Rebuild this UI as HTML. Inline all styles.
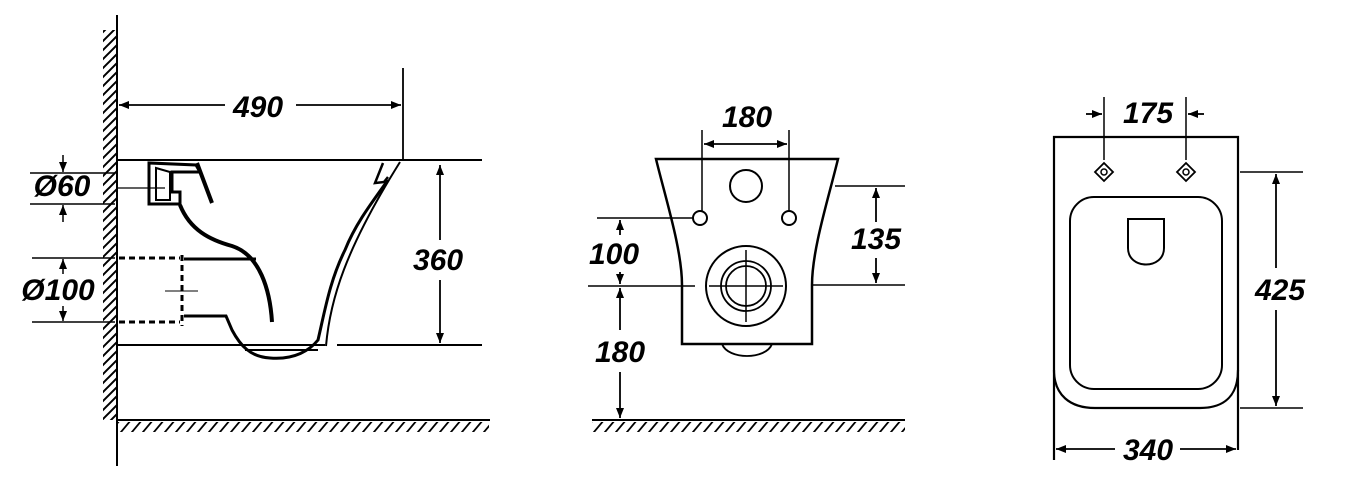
<!DOCTYPE html>
<html><head><style>html,body{margin:0;padding:0;background:#fff}svg{display:block}
text{font-family:"Liberation Sans",sans-serif;font-weight:bold;font-style:italic;font-size:30px;fill:#000;text-anchor:middle}</style></head>
<body>
<svg width="1362" height="485" viewBox="0 0 1362 485" xmlns="http://www.w3.org/2000/svg">
<defs>
<pattern id="h" patternUnits="userSpaceOnUse" width="9" height="9"><path d="M0 9 L9 0 M-1 1 L1 -1 M8 10 L10 8" stroke="#000" stroke-width="2"/></pattern>
<pattern id="f" patternUnits="userSpaceOnUse" width="11" height="12"><path d="M0 12 L10 0 M-1 1.2 L1 -1.2 M10 13.2 L12 10.8" stroke="#000" stroke-width="1.8"/></pattern>
<marker id="a" viewBox="0 0 10 10" refX="10" refY="5" markerWidth="10" markerHeight="10" orient="auto-start-reverse" markerUnits="userSpaceOnUse"><path d="M0 1 L10 5 L0 9 Z" fill="#000"/></marker>
</defs>
<g stroke="#000" fill="none" stroke-width="2">
<rect x="103" y="30" width="13" height="390" fill="url(#h)" stroke="none"/>
<line x1="117" y1="15" x2="117" y2="466"/>
<rect x="117" y="422" width="372" height="10" fill="url(#f)" stroke="none"/>
<line x1="117" y1="420" x2="490" y2="420"/>
<line x1="117" y1="160" x2="482" y2="160"/>
<line x1="117" y1="345" x2="325" y2="345"/>
<line x1="337" y1="345" x2="482" y2="345"/>
<line x1="403" y1="68" x2="403" y2="160" stroke-width="1.8"/>
<line x1="119" y1="105" x2="225" y2="105" marker-start="url(#a)" stroke-width="1.8"/>
<line x1="296" y1="105" x2="401" y2="105" marker-end="url(#a)" stroke-width="1.8"/>
<line x1="440" y1="165" x2="440" y2="240" marker-start="url(#a)" stroke-width="1.8"/>
<line x1="440" y1="280" x2="440" y2="343" marker-end="url(#a)" stroke-width="1.8"/>
<line x1="30" y1="173" x2="115" y2="173" stroke-width="1.5"/>
<line x1="30" y1="204" x2="115" y2="204" stroke-width="1.5"/>
<line x1="63" y1="155" x2="63" y2="172" marker-end="url(#a)" stroke-width="1.5"/>
<line x1="63" y1="222" x2="63" y2="205" marker-end="url(#a)" stroke-width="1.5"/>
<line x1="117" y1="188" x2="165" y2="188" stroke-width="1.2"/>
<line x1="32" y1="258" x2="115" y2="258" stroke-width="1.5"/>
<line x1="32" y1="322" x2="115" y2="322" stroke-width="1.5"/>
<line x1="63" y1="274" x2="63" y2="259" marker-end="url(#a)" stroke-width="1.5"/>
<line x1="63" y1="306" x2="63" y2="321" marker-end="url(#a)" stroke-width="1.5"/>
<path d="M149 163 L149 204 L180 204 L180 192 L172 192 L172 172 L200 172 L196 165 Z" stroke-width="3"/>
<path d="M156 168 L156 200 L170 200 L170 172 Z" stroke-width="2"/>
<path d="M197 163 L212 203" stroke-width="4"/>
<path d="M180 205 C190 230 210 240 232 246 C260 255 270 290 272 322" stroke-width="4"/>
<path d="M184 259 L256 259" stroke-width="3"/>
<path d="M184 316 L226 316 L232 330 C240 345 250 357 270 358 C295 360 310 350 318 340 C325 310 330 280 345 250 C355 225 370 205 388 180" stroke-width="3"/>
<path d="M245 350 L318 350 M326 346 C330 300 345 250 400 162" stroke-width="2"/>
<path d="M383 163 L375 183 L384 182 L388 177" stroke-width="2.5"/>
<path d="M119 258 L180 258 M119 322 L180 322 M182 255 L182 326" stroke-width="3" stroke-dasharray="6 4"/>
<line x1="165" y1="291" x2="198" y2="291" stroke-width="1"/>
<rect x="592" y="422" width="313" height="10" fill="url(#f)" stroke="none"/>
<line x1="592" y1="420" x2="905" y2="420"/>
<path d="M656 159 L838 159 C828 200 812 250 812 285 L812 344 L682 344 L682 285 C682 250 666 200 656 159 Z" stroke-width="2.5"/>
<path d="M722 344 C728 360 766 360 772 344" stroke-width="1.8"/>
<circle cx="746" cy="186" r="16" stroke-width="2"/>
<circle cx="700" cy="218" r="7" stroke-width="2"/>
<circle cx="789" cy="218" r="7" stroke-width="2"/>
<circle cx="746" cy="286" r="40" stroke-width="2"/>
<circle cx="746" cy="286" r="25" stroke-width="1.8"/>
<circle cx="746" cy="286" r="20" stroke-width="1.8"/>
<line x1="709" y1="286" x2="783" y2="286" stroke-width="1.5"/>
<line x1="746" y1="250" x2="746" y2="322" stroke-width="1.5"/>
<line x1="702" y1="130" x2="702" y2="211" stroke-width="1.5"/>
<line x1="789" y1="130" x2="789" y2="211" stroke-width="1.5"/>
<line x1="704" y1="144" x2="787" y2="144" marker-start="url(#a)" marker-end="url(#a)" stroke-width="1.8"/>
<line x1="835" y1="186" x2="905" y2="186" stroke-width="1.5"/>
<line x1="812" y1="285" x2="905" y2="285" stroke-width="1.5"/>
<line x1="876" y1="188" x2="876" y2="222" marker-start="url(#a)" stroke-width="1.8"/>
<line x1="876" y1="258" x2="876" y2="283" marker-end="url(#a)" stroke-width="1.8"/>
<line x1="597" y1="218" x2="693" y2="218" stroke-width="1.5"/>
<line x1="588" y1="286" x2="695" y2="286" stroke-width="1.5"/>
<line x1="620" y1="220" x2="620" y2="235" marker-start="url(#a)" stroke-width="1.8"/>
<line x1="620" y1="272" x2="620" y2="284" marker-end="url(#a)" stroke-width="1.8"/>
<line x1="620" y1="288" x2="620" y2="330" marker-start="url(#a)" stroke-width="1.8"/>
<line x1="620" y1="372" x2="620" y2="418" marker-end="url(#a)" stroke-width="1.8"/>
<path d="M1054 460 L1054 137 L1238 137 L1238 450" stroke-width="2.2"/>
<path d="M1054 370 C1054 395 1070 408 1095 408 L1200 408 C1225 408 1238 395 1238 370" stroke-width="2.2"/>
<rect x="1070" y="197" width="152" height="192" rx="24" stroke-width="2"/>
<path d="M1128 219 L1164 219 L1164 248 C1164 270 1128 270 1128 248 Z" stroke-width="2"/>
<path d="M1104 163 L1113 172 L1104 181 L1095 172 Z M1186 163 L1195 172 L1186 181 L1177 172 Z" stroke-width="1.8"/>
<circle cx="1104" cy="172" r="3" stroke-width="1.5"/>
<circle cx="1186" cy="172" r="3" stroke-width="1.5"/>
<line x1="1104" y1="97" x2="1104" y2="160" stroke-width="1.5"/>
<line x1="1186" y1="97" x2="1186" y2="160" stroke-width="1.5"/>
<line x1="1086" y1="114" x2="1102" y2="114" marker-end="url(#a)" stroke-width="1.8"/>
<line x1="1204" y1="114" x2="1188" y2="114" marker-end="url(#a)" stroke-width="1.8"/>
<line x1="1240" y1="172" x2="1303" y2="172" stroke-width="1.5"/>
<line x1="1240" y1="408" x2="1303" y2="408" stroke-width="1.5"/>
<line x1="1276" y1="174" x2="1276" y2="268" marker-start="url(#a)" stroke-width="1.8"/>
<line x1="1276" y1="310" x2="1276" y2="406" marker-end="url(#a)" stroke-width="1.8"/>
<line x1="1056" y1="449" x2="1115" y2="449" marker-start="url(#a)" stroke-width="1.8"/>
<line x1="1180" y1="449" x2="1236" y2="449" marker-end="url(#a)" stroke-width="1.8"/>
</g>
<text x="258" y="117">490</text>
<text x="438" y="270">360</text>
<text x="62" y="196">Ø60</text>
<text x="58" y="300">Ø100</text>
<text x="747" y="127">180</text>
<text x="876" y="249">135</text>
<text x="614" y="264">100</text>
<text x="620" y="362">180</text>
<text x="1148" y="123">175</text>
<text x="1280" y="300">425</text>
<text x="1148" y="460">340</text>
</svg>
</body></html>
